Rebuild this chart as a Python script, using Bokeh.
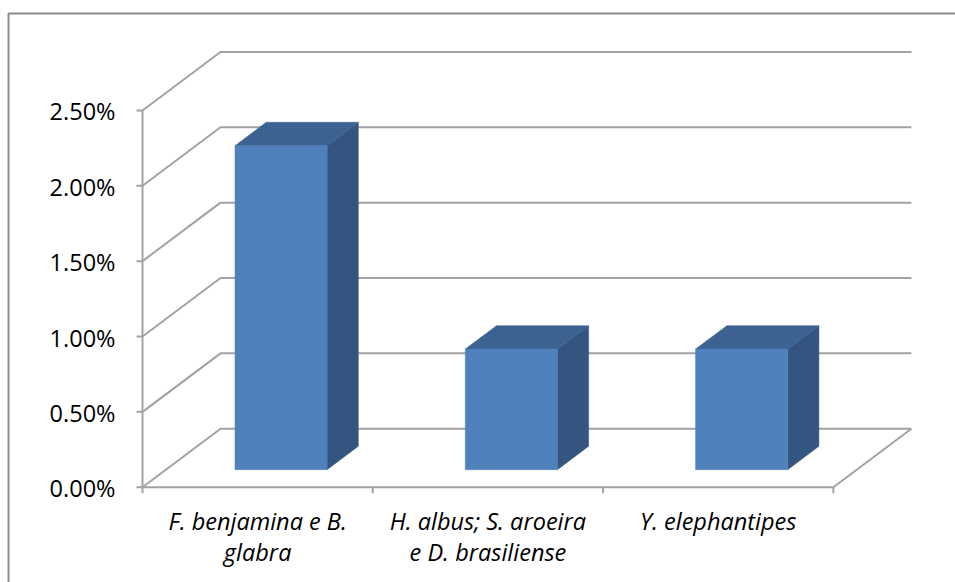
from bokeh.plotting import figure
from bokeh.models import Range1d
from bokeh.core.properties import value
from bokeh.embed import file_html
from bokeh.resources import INLINE

# --- data -------------------------------------------------------------
categories = [
    "F. benjamina e B.\nglabra",
    "H. albus; S. aroeira\ne D. brasiliense",
    "Y. elephantipes",
]
shares_pct = [2.15, 0.80, 0.80]
tick_values = [0.0, 0.5, 1.0, 1.5, 2.0, 2.5]
tick_labels = ["0.00%", "0.50%", "1.00%", "1.50%", "2.00%", "2.50%"]

# --- layout (pixels) --------------------------------------------------
W, H = 955, 582
OX, OY = 142.0, 486.7          # front-plane origin, measured from the top-left
CAT_PX = 230.3                 # width of one category slot
PCT_PX = 150.7                 # height of one percentage point
DEPTH_DX_PX, DEPTH_DY_PX = 78.0, 58.5   # oblique offset of the back wall

DX = DEPTH_DX_PX / CAT_PX       # depth offset in data units
DY = DEPTH_DY_PX / PCT_PX
N = len(categories)
V_MAX = tick_values[-1]
SLOT_LO, SLOT_HI = 0.3, 0.7     # bar extent inside its slot (width and depth)

GRID = "#a2a2a2"
FRONT, TOP, SIDE = "#4f81bd", "#3c6291", "#33557f"
FONT = value("Open Sans")


def proj(x, v, d):
    """Oblique projection: category x, value v, depth d in [0, 1]."""
    return x + d * DX, v + d * DY


p = figure(
    width=W, height=H, output_backend="svg", toolbar_location=None,
    x_axis_type=None, y_axis_type=None, min_border=0,
    x_range=Range1d(-OX / CAT_PX, (W - OX) / CAT_PX),
    y_range=Range1d(-(H - OY) / PCT_PX, OY / PCT_PX),
)
p.outline_line_color = None
p.background_fill_color = "white"
p.border_fill_color = "white"

# chart-area border (top and left edges visible)
bx = (8 - OX) / CAT_PX
by = (OY - 13) / PCT_PX
p.line([bx, bx, (W - OX) / CAT_PX + 1], [-(H - OY) / PCT_PX - 1, by, by],
       line_color="#8c8c8c", line_width=2)

# walls: left-wall diagonals and back-wall gridlines for every tick
xs, ys = [], []
for v in tick_values:
    x0, y0 = proj(0, v, 0)
    x1, y1 = proj(0, v, 1)
    x2, y2 = proj(N, v, 1)
    xs.append([x0, x1, x2])
    ys.append([y0, y1, y2])
# floor: front edge and right edge
fx0, fy0 = proj(0, 0, 0)
fx1, fy1 = proj(N, 0, 0)
fx2, fy2 = proj(N, 0, 1)
xs.append([fx0, fx1, fx2])
ys.append([fy0, fy1, fy2])
# vertical value axis on the front plane
xs.append([0, 0])
ys.append([0, V_MAX])
p.multi_line(xs, ys, line_color=GRID, line_width=2)

# tick marks
tick_len_x = 6 / CAT_PX
tick_len_y = 6 / PCT_PX
p.segment(x0=[0] * len(tick_values), y0=tick_values,
          x1=[-tick_len_x] * len(tick_values), y1=tick_values,
          line_color=GRID, line_width=2)
cat_edges = list(range(N + 1))
p.segment(x0=cat_edges, y0=[0] * len(cat_edges),
          x1=cat_edges, y1=[-tick_len_y] * len(cat_edges),
          line_color=GRID, line_width=2)

# bars: front, top and right side faces
front_l, front_r, front_b, front_t = [], [], [], []
top_xs, top_ys, side_xs, side_ys = [], [], [], []
for i, v in enumerate(shares_pct):
    xl, xr = i + SLOT_LO, i + SLOT_HI
    lx, by0 = proj(xl, 0, SLOT_LO)
    rx, ty0 = proj(xr, v, SLOT_LO)
    front_l.append(lx)
    front_r.append(rx)
    front_b.append(by0)
    front_t.append(ty0)
    corners_top = [proj(xl, v, SLOT_LO), proj(xl, v, SLOT_HI),
                   proj(xr, v, SLOT_HI), proj(xr, v, SLOT_LO)]
    top_xs.append([c[0] for c in corners_top])
    top_ys.append([c[1] for c in corners_top])
    corners_side = [proj(xr, 0, SLOT_LO), proj(xr, 0, SLOT_HI),
                    proj(xr, v, SLOT_HI), proj(xr, v, SLOT_LO)]
    side_xs.append([c[0] for c in corners_side])
    side_ys.append([c[1] for c in corners_side])

p.patches(side_xs, side_ys, fill_color=SIDE, line_color=SIDE, line_width=0.5)
p.patches(top_xs, top_ys, fill_color=TOP, line_color=TOP, line_width=0.5)
p.quad(left=front_l, right=front_r, bottom=front_b, top=front_t,
       fill_color=FRONT, line_color=FRONT, line_width=0.5)

# value labels
p.text(x=[0] * len(tick_values), y=tick_values, text=tick_labels,
       x_offset=-27, y_offset=1.0, text_align="right",
       text_baseline="alphabetic", text_font=FONT,
       text_font_size="23.5px", text_color="#000000")

# category labels, one glyph per text line
LINE_OFFSETS = [33.5, 64.5]
for k, off in enumerate(LINE_OFFSETS):
    xs_k, txt_k = [], []
    for i, name in enumerate(categories):
        parts = name.split("\n")
        if k < len(parts):
            xs_k.append(i + 0.5)
            txt_k.append(parts[k])
    p.text(x=xs_k, y=[0] * len(xs_k), text=txt_k, y_offset=off,
           text_align="center", text_baseline="alphabetic",
           text_font=FONT, text_font_style="italic", text_font_size="23.5px",
           text_color="#000000")

open("out.html", "w").write(file_html(p, INLINE))
